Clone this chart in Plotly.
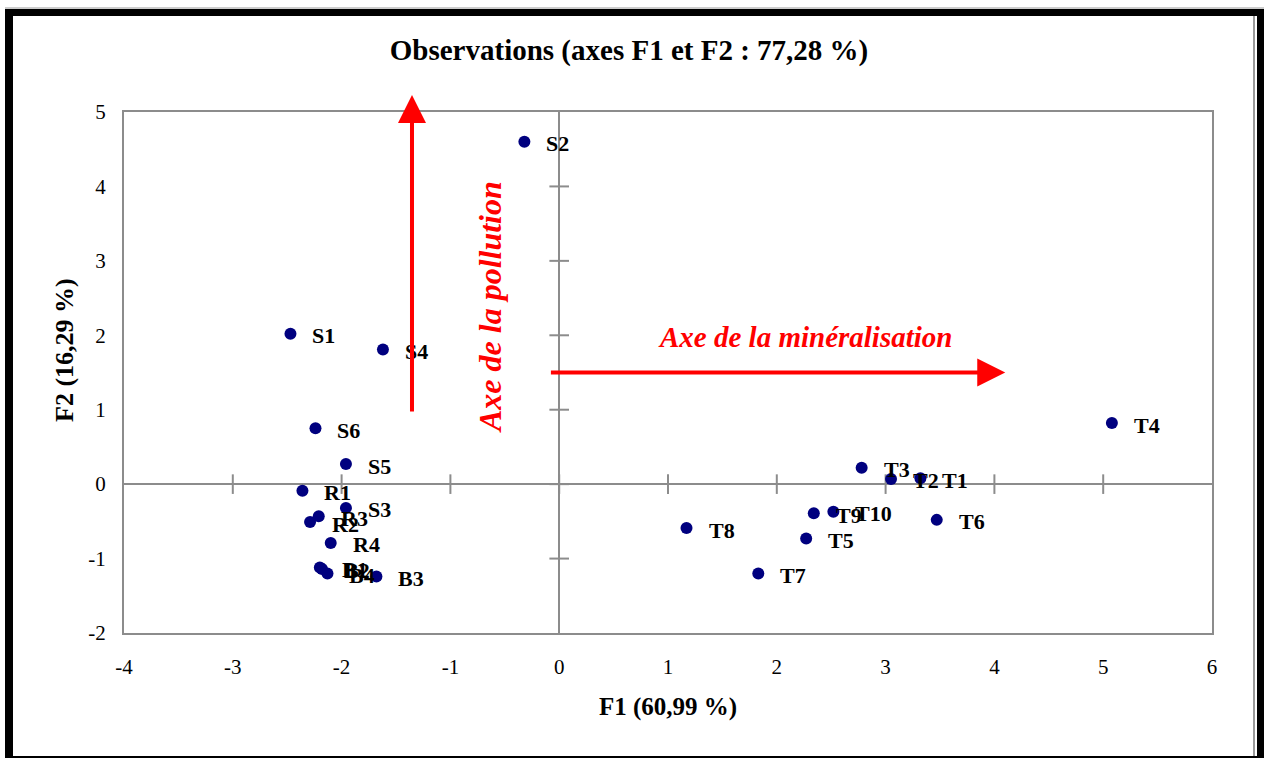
import plotly.graph_objects as go

# PCA scores of the observations on the first two factors
names = ["S1", "S2", "S3", "S4", "S5", "S6",
         "R1", "R2", "R3", "R4",
         "B1", "B2", "B3", "B4",
         "T1", "T2", "T3", "T4", "T5", "T6", "T7", "T8", "T9", "T10"]
f1 = [-2.47, -0.32, -1.96, -1.62, -1.96, -2.24,
      -2.36, -2.29, -2.21, -2.10,
      -2.20, -2.18, -1.68, -2.13,
      3.32, 3.05, 2.78, 5.08, 2.27, 3.47, 1.83, 1.17, 2.34, 2.52]
f2 = [2.02, 4.60, -0.32, 1.81, 0.27, 0.75,
      -0.09, -0.51, -0.43, -0.79,
      -1.12, -1.14, -1.24, -1.20,
      0.08, 0.07, 0.22, 0.82, -0.73, -0.48, -1.20, -0.59, -0.39, -0.37]

x_ticks = [-4, -3, -2, -1, 0, 1, 2, 3, 4, 5, 6]
x_ticktext = ["-4", "-3", "-2", "-1", "0", "1", "2", "3", "4", "5", "6"]
y_ticks = [-2, -1, 0, 1, 2, 3, 4, 5]
y_ticktext = ["-2", "-1", "0", "1", "2", "3", "4", "5"]

title_text = "Observations (axes F1 et F2 : 77,28 %)"
x_title = "F1 (60,99 %)"
y_title = "F2 (16,29 %)"

SERIF = "Liberation Serif, Times New Roman, serif"
GRID = "#8c8c8c"
NAVY = "#00007f"
RED = "#ff0000"

W, H = 1266, 758
L, R, T, B = 124, 54, 112, 125
PW, PH = W - L - R, H - T - B


def px(xp):
    return (xp - L) / PW


def py(yp):
    return (H - B - yp) / PH


fig = go.Figure()

# tick marks crossing the zero lines
fig.add_trace(go.Scatter(
    x=[v for v in x_ticks if v not in (x_ticks[0], x_ticks[-1])],
    y=[0] * (len(x_ticks) - 2),
    mode="markers",
    marker=dict(symbol="line-ns", size=14, line=dict(color=GRID, width=2)),
    hoverinfo="skip", showlegend=False,
))
fig.add_trace(go.Scatter(
    x=[0] * (len(y_ticks) - 2),
    y=[v for v in y_ticks if v not in (y_ticks[0], y_ticks[-1])],
    mode="markers",
    marker=dict(symbol="line-ew", size=14, line=dict(color=GRID, width=2)),
    hoverinfo="skip", showlegend=False,
))

# observations
fig.add_trace(go.Scatter(
    x=f1, y=f2, mode="markers",
    marker=dict(color=NAVY, size=12, line=dict(width=0)),
    text=names, hoverinfo="text", showlegend=False,
))

annotations = []
for n, a, b in zip(names, f1, f2):
    annotations.append(dict(
        x=a, y=b, xref="x", yref="y", text=n, showarrow=False,
        xanchor="left", yanchor="middle", xshift=20, yshift=-2,
        font=dict(family=SERIF, size=22, color="black", weight="bold"),
    ))

# interpretation arrows
annotations.append(dict(
    x=4.10, y=1.5, xref="x", yref="y", ax=-0.09, ay=1.5, axref="x", ayref="y",
    text="", showarrow=True, arrowhead=2, arrowsize=1.4, arrowwidth=4,
    arrowcolor=RED,
))
annotations.append(dict(
    x=-1.353, y=py(95), xref="x", yref="paper", ax=0, ay=318,
    text="", showarrow=True, arrowhead=2, arrowsize=1.4, arrowwidth=4,
    arrowcolor=RED,
))
annotations.append(dict(
    x=2.26, y=1.98, xref="x", yref="y", text="Axe de la minéralisation",
    showarrow=False, xanchor="center", yanchor="middle",
    font=dict(family=SERIF, size=29, color=RED, weight="bold", style="italic"),
))
annotations.append(dict(
    x=-0.636, y=2.38, xref="x", yref="y", text="Axe de la pollution",
    showarrow=False, textangle=-90, xanchor="center", yanchor="middle",
    font=dict(family=SERIF, size=32, color=RED, weight="bold", style="italic"),
))

# axis titles
annotations.append(dict(
    x=px(668), y=py(707), xref="paper", yref="paper", text=x_title,
    showarrow=False, xanchor="center", yanchor="middle",
    font=dict(family=SERIF, size=25, color="black", weight="bold"),
))
annotations.append(dict(
    x=px(64), y=py(350), xref="paper", yref="paper", text=y_title,
    showarrow=False, textangle=-90, xanchor="center", yanchor="middle",
    font=dict(family=SERIF, size=26, color="black", weight="bold"),
))

# outer black frame
shapes = [
    dict(type="line", xref="paper", yref="paper", x0=px(5), x1=px(1264),
         y0=py(8), y1=py(8), line=dict(color="#9a9a9a", width=1)),
    dict(type="rect", xref="paper", yref="paper", x0=px(5), x1=px(1264),
         y0=py(16), y1=py(9), fillcolor="black", line=dict(width=0)),
    dict(type="rect", xref="paper", yref="paper", x0=px(5), x1=px(13),
         y0=py(758), y1=py(9), fillcolor="black", line=dict(width=0)),
    dict(type="rect", xref="paper", yref="paper", x0=px(1257), x1=px(1264),
         y0=py(758), y1=py(9), fillcolor="black", line=dict(width=0)),
    dict(type="line", xref="paper", yref="paper", x0=px(1254), x1=px(1254),
         y0=py(758), y1=py(16), line=dict(color="#9a9a9a", width=2)),
    dict(type="rect", xref="paper", yref="paper", x0=px(5), x1=px(1264),
         y0=py(758), y1=py(756), fillcolor="black", line=dict(width=0)),
]

fig.update_layout(
    width=W, height=H,
    margin=dict(l=L, r=R, t=T, b=B, pad=0),
    paper_bgcolor="white", plot_bgcolor="white",
    title=dict(text=title_text, x=629 / W, y=1 - 50 / H, xref="container",
               yref="container", xanchor="center", yanchor="middle",
               font=dict(family=SERIF, size=29, color="black", weight="bold")),
    xaxis=dict(range=[-4, 6], tickvals=x_ticks, ticktext=x_ticktext,
               showgrid=False, zeroline=True, zerolinecolor=GRID,
               zerolinewidth=2, showline=True, mirror=True, linecolor=GRID,
               linewidth=2, ticks="", ticklabelstandoff=14,
               tickfont=dict(family=SERIF, size=21, color="black")),
    yaxis=dict(range=[-2, 5], tickvals=y_ticks, ticktext=y_ticktext,
               showgrid=False, zeroline=True, zerolinecolor=GRID,
               zerolinewidth=2, showline=True, mirror=True, linecolor=GRID,
               linewidth=2, ticks="", ticklabelstandoff=12,
               tickfont=dict(family=SERIF, size=21, color="black")),
    annotations=annotations,
    shapes=shapes,
    showlegend=False,
)

fig.write_html("out.html")
